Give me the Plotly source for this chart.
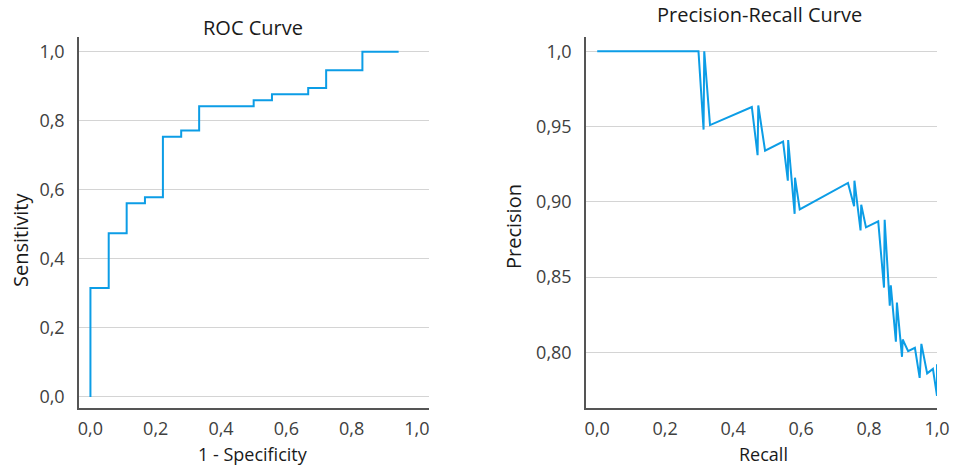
import plotly.graph_objects as go

# ROC curve (step points)
roc_fpr = [0.0, 0.0, 0.056, 0.111, 0.167, 0.222, 0.278, 0.333, 0.500, 0.556, 0.667, 0.722, 0.833, 0.944]
roc_tpr = [0.0, 0.316, 0.474, 0.561, 0.579, 0.754, 0.772, 0.842, 0.860, 0.877, 0.895, 0.947, 1.0, 1.0]

# Precision-Recall curve
pr_recall = [0.0, 0.298, 0.313, 0.315, 0.332, 0.455, 0.472, 0.474, 0.494, 0.547,
             0.561, 0.562, 0.581, 0.582, 0.596, 0.738, 0.756, 0.757, 0.775, 0.777,
             0.791, 0.827, 0.844, 0.846, 0.861, 0.864, 0.879, 0.882, 0.897, 0.899,
             0.915, 0.935, 0.949, 0.954, 0.971, 0.988, 1.0, 1.0]
pr_precision = [1.0, 1.0, 0.948, 1.0, 0.951, 0.963, 0.931, 0.964, 0.934, 0.940,
                0.914, 0.941, 0.892, 0.916, 0.895, 0.9125, 0.897, 0.914, 0.881, 0.898,
                0.883, 0.887, 0.843, 0.888, 0.831, 0.8445, 0.807, 0.833, 0.797, 0.8085,
                0.8007, 0.803, 0.783, 0.8056, 0.786, 0.789, 0.771, 0.792]

x_tickvals = [0.0, 0.2, 0.4, 0.6, 0.8, 1.0]
x_ticktext = ["0,0", "0,2", "0,4", "0,6", "0,8", "1,0"]
roc_y_tickvals = [0.0, 0.2, 0.4, 0.6, 0.8, 1.0]
roc_y_ticktext = ["0,0", "0,2", "0,4", "0,6", "0,8", "1,0"]
pr_y_tickvals = [0.80, 0.85, 0.90, 0.95, 1.0]
pr_y_ticktext = ["0,80", "0,85", "0,90", "0,95", "1,0"]

W, H = 953, 465
LINE = "#0c9de6"
FONT = "Open Sans"


def px(x):
    return x / W


def py(y):
    return 1 - y / H


fig = go.Figure()
fig.add_trace(go.Scatter(x=roc_fpr, y=roc_tpr, mode="lines", line=dict(color=LINE, width=2, shape="hv"),
                         xaxis="x", yaxis="y", showlegend=False, hoverinfo="skip"))
fig.add_trace(go.Scatter(x=pr_recall, y=pr_precision, mode="lines", line=dict(color=LINE, width=2),
                         xaxis="x2", yaxis="y2", showlegend=False, hoverinfo="skip"))

ydom = [py(408), py(37)]
common_x = dict(showgrid=False, zeroline=False, showline=True, linecolor="#555555", linewidth=1.5,
                ticks="", tickvals=x_tickvals, ticktext=x_ticktext, automargin=False,
                tickfont=dict(family=FONT, size=18, color="#404040"), ticklabelstandoff=4)
common_y = dict(showgrid=True, gridcolor="#d4d4d4", gridwidth=1, zeroline=False, showline=True,
                linecolor="#555555", linewidth=1.5, ticks="", automargin=False,
                tickfont=dict(family=FONT, size=18, color="#404040"), ticklabelstandoff=9)

fig.update_layout(
    width=W, height=H, autosize=False, margin=dict(l=0, r=0, t=0, b=0, autoexpand=False),
    paper_bgcolor="white", plot_bgcolor="white",
    xaxis=dict(domain=[px(79), px(429)], range=[-0.035, 1.037], anchor="y", **common_x),
    yaxis=dict(domain=ydom, range=[-0.032, 1.043], anchor="x",
               tickvals=roc_y_tickvals, ticktext=roc_y_ticktext, **common_y),
    xaxis2=dict(domain=[px(586), px(937)], range=[-0.033, 1.0], anchor="y2", **common_x),
    yaxis2=dict(domain=ydom, range=[0.763, 1.0095], anchor="x2",
                tickvals=pr_y_tickvals, ticktext=pr_y_ticktext, **common_y),
)


def ann(text, x, y, size, angle=0):
    fig.add_annotation(text=text, x=px(x), y=py(y), xref="paper", yref="paper",
                       showarrow=False, textangle=angle, xanchor="center", yanchor="middle",
                       font=dict(family=FONT, size=size, color="#1a1a1a"))


ann("ROC Curve", 253, 27, 20)
ann("Precision-Recall Curve", 759, 15, 20)
ann("Sensitivity", 20, 240, 20, -90)
ann("Precision", 513, 227, 20, -90)
ann("1 - Specificity", 253, 454, 18)
ann("Recall", 763, 454, 18)

fig.write_html(
    "out.html",
    config={"responsive": False, "displayModeBar": False},
    post_script="document.body.style.margin='0';document.body.style.overflow='hidden';",
)
